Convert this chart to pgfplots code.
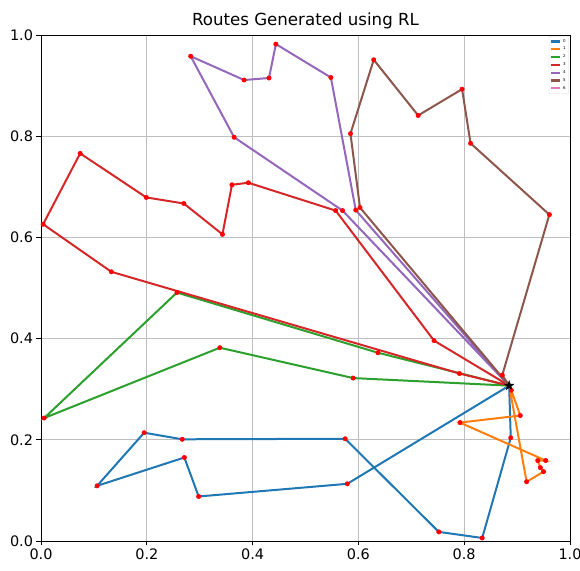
\documentclass[border=0pt]{standalone}
\usepackage{fontspec}
\setmainfont{DejaVu Sans}
\usepackage{pgfplots}
\pgfplotsset{compat=1.18}
\definecolor{c0}{HTML}{1F77B4}
\definecolor{c1}{HTML}{FF7F0E}
\definecolor{c2}{HTML}{2CA02C}
\definecolor{c3}{HTML}{D62728}
\definecolor{c4}{HTML}{9467BD}
\definecolor{c5}{HTML}{8C564B}
\definecolor{c6}{HTML}{E377C2}
\pgfdeclareplotmark{fstar}{%
  \pgfpathmoveto{\pgfpointpolar{90}{\pgfplotmarksize}}%
  \pgfpathlineto{\pgfpointpolar{126}{0.4\pgfplotmarksize}}%
  \pgfpathlineto{\pgfpointpolar{162}{\pgfplotmarksize}}%
  \pgfpathlineto{\pgfpointpolar{198}{0.4\pgfplotmarksize}}%
  \pgfpathlineto{\pgfpointpolar{234}{\pgfplotmarksize}}%
  \pgfpathlineto{\pgfpointpolar{270}{0.4\pgfplotmarksize}}%
  \pgfpathlineto{\pgfpointpolar{306}{\pgfplotmarksize}}%
  \pgfpathlineto{\pgfpointpolar{342}{0.4\pgfplotmarksize}}%
  \pgfpathlineto{\pgfpointpolar{18}{\pgfplotmarksize}}%
  \pgfpathlineto{\pgfpointpolar{54}{0.4\pgfplotmarksize}}%
  \pgfpathclose\pgfusepathqfillstroke}
\begin{document}
\begin{tikzpicture}
\begin{axis}[
  scale only axis, width=529bp, height=506bp,
  xmin=0, xmax=1, ymin=0, ymax=1,
  xtick={0,0.2,0.4,0.6,0.8,1}, ytick={0,0.2,0.4,0.6,0.8,1},
  /pgf/number format/assume math mode=true,
  ticklabel style={font=\fontsize{14.5}{16}\selectfont, /pgf/number format/fixed, /pgf/number format/fixed zerofill, /pgf/number format/precision=1},
  tick align=outside, tick pos=left,
  major tick length=4.5bp,
  tick style={black, line width=0.8pt},
  axis line style={line width=0.8pt},
  grid=major, grid style={line width=0.8pt, color=black!25},
  title={Routes Generated using RL},
  title style={font=\fontsize{16.7}{19}\selectfont, yshift=-3bp},
  legend style={at={(0.998,0.998)}, anchor=north east, font=\fontsize{4}{4.5}\selectfont,
    draw=black!15, rounded corners=1pt, row sep=-0.6bp, inner sep=1pt},
  legend cell align=left,
  legend image code/.code={\draw[#1, line width=2.2bp] (0bp,0bp) -- (9bp,0bp);},
]
\addplot[c0, no marks, line width=2bp] coordinates {
(0.885,0.307) (0.888,0.204) (0.834,0.006) (0.752,0.018) (0.575,0.202) (0.267,0.201)
(0.195,0.214) (0.106,0.109) (0.271,0.165) (0.298,0.088) (0.579,0.113) (0.885,0.307)};
\addlegendentry{0}
\addplot[c1, no marks, line width=2bp] coordinates {
(0.885,0.307) (0.889,0.298) (0.906,0.248) (0.792,0.234) (0.954,0.159) (0.939,0.159)
(0.944,0.145) (0.950,0.137) (0.918,0.117) (0.885,0.307)};
\addlegendentry{1}
\addplot[c2, no marks, line width=2bp] coordinates {
(0.885,0.307) (0.590,0.322) (0.338,0.382) (0.006,0.243) (0.257,0.491) (0.637,0.372) (0.885,0.307)};
\addlegendentry{2}
\addplot[c3, no marks, line width=2bp] coordinates {
(0.885,0.307) (0.743,0.396) (0.557,0.653) (0.392,0.708) (0.361,0.704) (0.343,0.606)
(0.270,0.667) (0.199,0.679) (0.074,0.766) (0.004,0.626) (0.133,0.532) (0.791,0.331) (0.885,0.307)};
\addlegendentry{3}
\addplot[c4, no marks, line width=2bp] coordinates {
(0.885,0.307) (0.570,0.653) (0.365,0.798) (0.283,0.958) (0.384,0.911) (0.431,0.915)
(0.444,0.982) (0.548,0.916) (0.595,0.654) (0.885,0.307)};
\addlegendentry{4}
\addplot[c5, no marks, line width=2bp] coordinates {
(0.885,0.307) (0.872,0.328) (0.961,0.645) (0.812,0.786) (0.796,0.893) (0.713,0.841)
(0.629,0.951) (0.585,0.805) (0.603,0.659) (0.885,0.307)};
\addlegendentry{5}
\addlegendimage{c6}
\addlegendentry{6}
\addplot[only marks, mark=*, mark size=2.2bp, line width=0.5bp, red, forget plot] coordinates {
(0.888,0.204) (0.834,0.006) (0.752,0.018) (0.575,0.202) (0.267,0.201)
(0.195,0.214) (0.106,0.109) (0.271,0.165) (0.298,0.088) (0.579,0.113)
(0.889,0.298) (0.906,0.248) (0.792,0.234) (0.954,0.159) (0.939,0.159)
(0.944,0.145) (0.950,0.137) (0.918,0.117)
(0.590,0.322) (0.338,0.382) (0.006,0.243) (0.257,0.491) (0.637,0.372)
(0.743,0.396) (0.557,0.653) (0.392,0.708) (0.361,0.704) (0.343,0.606)
(0.270,0.667) (0.199,0.679) (0.074,0.766) (0.004,0.626) (0.133,0.532) (0.791,0.331)
(0.570,0.653) (0.365,0.798) (0.283,0.958) (0.384,0.911) (0.431,0.915)
(0.444,0.982) (0.548,0.916) (0.595,0.654)
(0.872,0.328) (0.961,0.645) (0.812,0.786) (0.796,0.893) (0.713,0.841)
(0.629,0.951) (0.585,0.805) (0.603,0.659)};
\addplot[only marks, mark=fstar, mark size=5bp, black, line width=0.3pt, forget plot] coordinates {(0.885,0.307)};
\end{axis}
\pgfresetboundingbox
\path[use as bounding box] ([shift={(-41bp,-30bp)}]current axis.south west) rectangle ([shift={(10bp,35bp)}]current axis.north east);
\end{tikzpicture}
\end{document}
